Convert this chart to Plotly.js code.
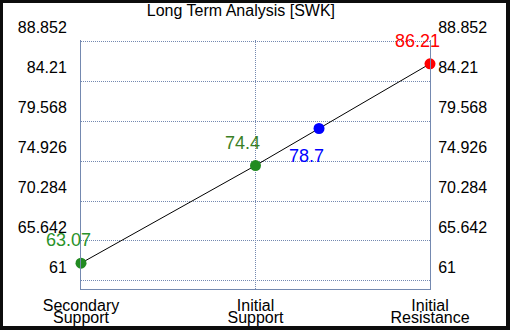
<!DOCTYPE html>
<html>
<head>
<meta charset="utf-8">
<script src="https://cdn.plot.ly/plotly-3.0.1.min.js"></script>
<style>
  html, body { margin: 0; padding: 0; background: #0d0d0d; width: 510px; height: 330px; overflow: hidden; }
  #chart { position: absolute; left: 3px; top: 3px; width: 503px; height: 323px; background: #fff; }
</style>
</head>
<body>
<div id="chart"></div>
<script>
// ---- data ----
var categoryPositions = [0, 1, 2];
var categoryLine1 = ['Secondary', 'Initial', 'Initial'];
var categoryLine2 = ['Support', 'Support', 'Resistance'];

var pointX = [0, 1, 1.364, 2];
var pointY = [63.07, 74.4, 78.7, 86.21];
var pointLabels = ['63.07', '74.4', '78.7', '86.21'];
var pointColors = ['#228B22', '#228B22', '#0000FF', '#FF0000'];
var labelColors = ['#2a932a', '#3a7f25', '#0000FF', '#FF0000'];
var labelBelow = [false, false, true, false];

var yTickVals = [61, 65.642, 70.284, 74.926, 79.568, 84.21, 88.852];
var yTickText = ['61', '65.642', '70.284', '74.926', '79.568', '84.21', '88.852'];
var yRange = [60.07, 88.97];
var xRange = [0, 2];

var axisColor = '#7489b0';
var font = 'Arial, "Liberation Sans", sans-serif';

var traces = [
  {
    x: pointX, y: pointY, type: 'scatter', mode: 'lines',
    line: {color: '#000000', width: 1}, hoverinfo: 'skip', showlegend: false, cliponaxis: false
  },
  {
    x: pointX, y: pointY, type: 'scatter', mode: 'markers',
    marker: {color: pointColors, size: 11}, hoverinfo: 'skip', showlegend: false, cliponaxis: false
  },
  { // carrier for the right axis
    x: pointX, y: pointY, xaxis: 'x', yaxis: 'y2', type: 'scatter', mode: 'markers',
    marker: {opacity: 0}, hoverinfo: 'skip', showlegend: false
  },
  { // carrier for the second line of category labels
    x: pointX, y: pointY, xaxis: 'x2', yaxis: 'y', type: 'scatter', mode: 'markers',
    marker: {opacity: 0}, hoverinfo: 'skip', showlegend: false
  }
];

var annotations = pointX.map(function (xv, i) {
  return {
    x: xv, y: pointY[i], xref: 'x', yref: 'y',
    text: pointLabels[i], showarrow: false,
    font: {family: font, size: 18, color: labelColors[i]},
    xshift: -13, yshift: labelBelow[i] ? -28 : 23
  };
});

var layout = {
  width: 503, height: 323,
  margin: {l: 78, r: 76, t: 37, b: 37, pad: 0},
  paper_bgcolor: '#ffffff', plot_bgcolor: '#ffffff',
  showlegend: false, hovermode: false,
  title: {
    text: 'Long Term Analysis [SWK]',
    font: {family: font, size: 16, color: '#000000'},
    xref: 'container', yref: 'container', x: 0.473, xanchor: 'center',
    y: 0.977, yanchor: 'middle'
  },
  xaxis: {
    range: xRange, tickmode: 'array', tickvals: categoryPositions, ticktext: categoryLine1,
    showline: true, linecolor: axisColor, linewidth: 1,
    showgrid: true, gridcolor: axisColor, griddash: '1px,1px', gridwidth: 1,
    zeroline: false, ticks: '', tickfont: {family: font, size: 16, color: '#000'},
    ticklabelstandoff: 2, fixedrange: true
  },
  xaxis2: {
    range: xRange, overlaying: 'x', anchor: 'y', side: 'bottom',
    tickmode: 'array', tickvals: categoryPositions, ticktext: categoryLine2,
    showline: false, showgrid: false, zeroline: false, ticks: '',
    tickfont: {family: font, size: 16, color: '#000'},
    ticklabelstandoff: 17, fixedrange: true
  },
  yaxis: {
    range: yRange, tickmode: 'array', tickvals: yTickVals, ticktext: yTickText,
    showline: true, linecolor: axisColor, linewidth: 1,
    showgrid: true, gridcolor: axisColor, griddash: '1px,1px', gridwidth: 1,
    zeroline: false, ticks: '', tickfont: {family: font, size: 16, color: '#000'},
    ticklabelshift: -14, ticklabelstandoff: 10, fixedrange: true
  },
  yaxis2: {
    range: yRange, overlaying: 'y', side: 'right', anchor: 'x',
    tickmode: 'array', tickvals: yTickVals, ticktext: yTickText,
    showline: true, linecolor: axisColor, linewidth: 1,
    showgrid: false, zeroline: false, ticks: '',
    tickfont: {family: font, size: 16, color: '#000'},
    ticklabelshift: -14, ticklabelstandoff: 4, fixedrange: true
  },
  annotations: annotations
};

Plotly.newPlot('chart', traces, layout, {displayModeBar: false, staticPlot: true});
</script>
</body>
</html>
